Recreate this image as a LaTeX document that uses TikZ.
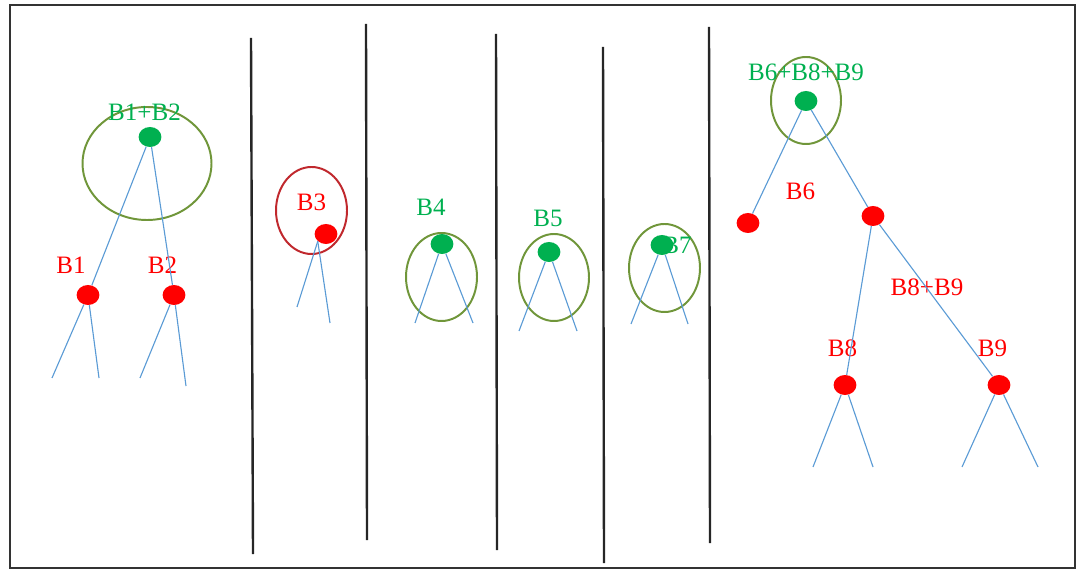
\documentclass[tikz,border=0pt]{standalone}
\usepackage{fontspec}
\setmainfont{Liberation Serif}
\usetikzlibrary{shapes.geometric}
\definecolor{grn}{RGB}{0,176,80}
\definecolor{ringgreen}{RGB}{112,150,58}
\definecolor{ringred}{RGB}{192,40,45}
\definecolor{edgeblue}{RGB}{91,155,213}

\begin{document}
\begin{tikzpicture}[x=0.025cm,y=-0.025cm,
    dot/.style={ellipse,minimum width=0.57cm,minimum height=0.5cm,inner sep=0pt},
    reddot/.style={dot,fill=red},
    grndot/.style={dot,fill=grn},
    lbl/.style={inner sep=0pt,font=\fontsize{17.8}{21}\selectfont},
    edge/.style={edgeblue,line width=0.8pt},
    ring/.style={ringgreen,line width=1.4pt},
    wall/.style={black!85,line width=1.7pt}]

    \useasboundingbox (0,0) rectangle (1082,569);
    \draw[black!80,line width=0.9pt] (10,5) rectangle (1075,568);

    % separators
    \draw[wall] (251,38) -- (253,554);
    \draw[wall] (366,24) -- (367,540);
    \draw[wall] (496,34) -- (497,550);
    \draw[wall] (603,47) -- (604,563);
    \draw[wall] (709,27) -- (710,543);

    % B1+B2
    \draw[ring] (147,163.5) ellipse [x radius=64.5,y radius=56.5];
    \node[lbl,text=grn] (t12) at (144.5,112) {B1+B2};
    \node[lbl,text=red] (t1) at (71,265) {B1};
    \node[lbl,text=red] (t2) at (162.5,265) {B2};
    \node[grndot] (r12) at (150,137) {};
    \node[reddot] (b1) at (88,295) {};
    \node[reddot] (b2) at (174,295) {};
    \coordinate (b1l) at (52,378);
    \coordinate (b1r) at (99,378);
    \coordinate (b2l) at (140,378);
    \coordinate (b2r) at (186,386);
    \draw[edge] (r12) -- (b1);
    \draw[edge] (r12) -- (b2);
    \draw[edge] (b1) -- (b1l);
    \draw[edge] (b1) -- (b1r);
    \draw[edge] (b2) -- (b2l);
    \draw[edge] (b2) -- (b2r);

    % B3
    \draw[ringred,line width=1.4pt] (311.5,210.5) ellipse [x radius=35.5,y radius=43.5];
    \node[lbl,text=red] (t3) at (311.5,202.5) {B3};
    \node[reddot] (b3) at (326,234) {};
    \coordinate (b3l) at (297,307);
    \coordinate (b3r) at (330,323);
    \draw[edge] (b3.south west) -- (b3l);
    \draw[edge] (b3.south west) -- (b3r);

    % B4
    \draw[ring] (441.5,277) ellipse [x radius=35.5,y radius=44];
    \node[lbl,text=grn] (t4) at (431,207) {B4};
    \node[grndot] (b4) at (442,244) {};
    \coordinate (b4l) at (415,323);
    \coordinate (b4r) at (473,323);
    \draw[edge] (b4) -- (b4l);
    \draw[edge] (b4) -- (b4r);

    % B5
    \draw[ring] (554,277.5) ellipse [x radius=35,y radius=43.5];
    \node[lbl,text=grn] (t5) at (548,218) {B5};
    \node[grndot] (b5) at (549,252) {};
    \coordinate (b5l) at (519,331);
    \coordinate (b5r) at (577,331);
    \draw[edge] (b5) -- (b5l);
    \draw[edge] (b5) -- (b5r);

    % B7
    \draw[ring] (664.5,268) ellipse [x radius=35.5,y radius=44];
    \node[lbl,text=grn] (t7) at (677,245) {B7};
    \node[grndot] (b7) at (662,245) {};
    \coordinate (b7l) at (631,324);
    \coordinate (b7r) at (688,324);
    \draw[edge] (b7) -- (b7l);
    \draw[edge] (b7) -- (b7r);

    % B6+B8+B9
    \draw[ring] (806,100.5) ellipse [x radius=35,y radius=43.5];
    \node[lbl,text=grn] (t689) at (806,72.5) {B6+B8+B9};
    \node[lbl,text=red] (t6) at (800.5,191) {B6};
    \node[lbl,text=red] (t89) at (927,287.5) {B8+B9};
    \node[lbl,text=red] (t8) at (842.5,348) {B8};
    \node[lbl,text=red] (t9) at (992.5,348) {B9};
    \node[grndot] (r689) at (806,101) {};
    \node[reddot] (b6) at (748,223) {};
    \node[reddot] (r89) at (873,216) {};
    \node[reddot] (b8) at (845,385) {};
    \node[reddot] (b9) at (999,385) {};
    \coordinate (b8l) at (813,467);
    \coordinate (b8r) at (873,467);
    \coordinate (b9l) at (962,467);
    \coordinate (b9r) at (1038,467);
    \draw[edge] (r689) -- (b6);
    \draw[edge] (r689) -- (r89);
    \draw[edge] (r89) -- (b8);
    \draw[edge] (r89) -- (b9);
    \draw[edge] (b8) -- (b8l);
    \draw[edge] (b8) -- (b8r);
    \draw[edge] (b9) -- (b9l);
    \draw[edge] (b9) -- (b9r);
\end{tikzpicture}
\end{document}
